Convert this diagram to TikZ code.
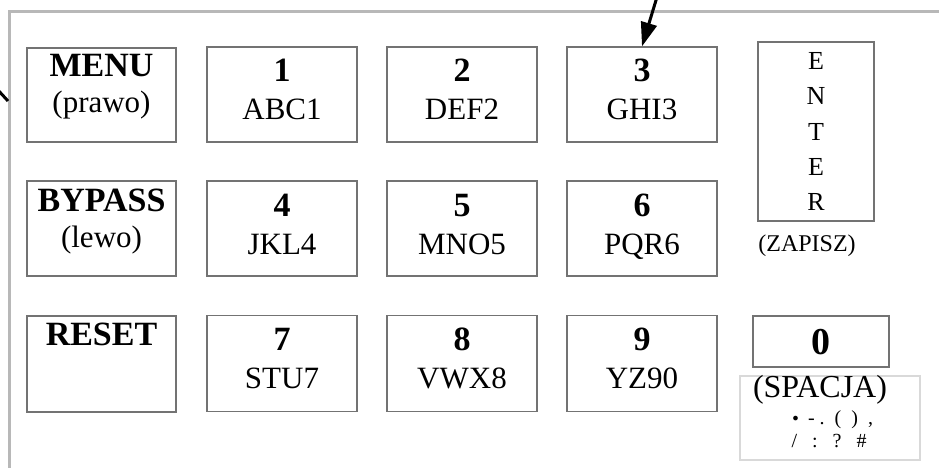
\documentclass[tikz,border=0pt]{standalone}
\usepackage{fontspec}
\setmainfont{Liberation Serif}
\usetikzlibrary{arrows.meta}
\definecolor{framegray}{gray}{0.72}
\definecolor{boxgray}{gray}{0.45}
\definecolor{lightbox}{gray}{0.85}
\tikzset{
  key/.style={draw=boxgray, line width=1.2pt, inner sep=0pt},
  big/.style={font=\fontsize{34}{34}\selectfont\bfseries, anchor=base, inner sep=0pt},
  sub/.style={font=\fontsize{31}{31}\selectfont, anchor=base, inner sep=0pt},
  ent/.style={font=\fontsize{26}{26}\selectfont, anchor=base, inner sep=0pt},
  sym/.style={font=\fontsize{20}{20}\selectfont, anchor=base, inner sep=0pt},
  pointer/.style={line width=3pt, -{Triangle[length=24pt,width=16pt]}}
}
\begin{document}
\begin{tikzpicture}[x=1pt,y=-1pt]
\useasboundingbox (0,0) rectangle (939,468);
% frame
\draw[framegray, line width=3pt] (9,470) -- (9,12) -- (941,12);
% left column
\node[key, minimum width=149pt, minimum height=94pt] (menu) at (101.5,95) {};
\node[key, minimum width=149pt, minimum height=95pt] (bypass) at (101.5,228.5) {};
\node[key, minimum width=149pt, minimum height=96pt] (reset) at (101.5,364) {};
\node[big] (menut) at (101.5,77) {MENU};
\node[sub] (menus) at (101.5,113) {(prawo)};
\node[big] (bypasst) at (101.5,211) {BYPASS};
\node[sub] (bypasss) at (101.5,247) {(lewo)};
\node[big] (resett) at (101.5,345) {RESET};
% number keys
\foreach \c/\x in {1/282,2/462,3/642}{
  \node[key, minimum width=150pt, minimum height=95pt] (k\c) at (\x,94.5) {};}
\foreach \c/\x in {4/282,5/462,6/642}{
  \node[key, minimum width=150pt, minimum height=95pt] (k\c) at (\x,228.5) {};}
\foreach \c/\x in {7/282,8/462,9/642}{
  \node[key, minimum width=150pt, minimum height=96pt] (k\c) at (\x,363.5) {};}
\node[big] (n1) at (282,82) {1};   \node[sub] (t1) at (282,120) {ABC1};
\node[big] (n2) at (462,82) {2};   \node[sub] (t2) at (462,120) {DEF2};
\node[big] (n3) at (642,82) {3};   \node[sub] (t3) at (642,120) {GHI3};
\node[big] (n4) at (282,216) {4};  \node[sub] (t4) at (282,254) {JKL4};
\node[big] (n5) at (462,216) {5};  \node[sub] (t5) at (462,254) {MNO5};
\node[big] (n6) at (642,216) {6};  \node[sub] (t6) at (642,254) {PQR6};
\node[big] (n7) at (282,350) {7};  \node[sub] (t7) at (282,388) {STU7};
\node[big] (n8) at (462,350) {8};  \node[sub] (t8) at (462,388) {VWX8};
\node[big] (n9) at (642,350) {9};  \node[sub] (t9) at (642,388) {YZ90};
% enter
\node[key, minimum width=116pt, minimum height=179pt] (enter) at (816,131.5) {};
\node[ent] (e1) at (816,70) {E};
\node[ent] (e2) at (816,105) {N};
\node[ent] (e3) at (816,140) {T};
\node[ent] (e4) at (816,175) {E};
\node[ent] (e5) at (816,210) {R};
\node[font=\fontsize{24}{24}\selectfont, anchor=base, inner sep=0pt] (zapisz) at (807,251) {(ZAPISZ)};
% zero
\node[key, minimum width=136pt, minimum height=51pt] (k0) at (821,341.5) {};
\node[font=\fontsize{38}{38}\selectfont\bfseries, anchor=base, inner sep=0pt] (n0) at (821,354) {0};
\node[draw=lightbox, line width=1.2pt, minimum width=180pt, minimum height=84pt, inner sep=0pt] (spac) at (830,418) {};
\node[font=\fontsize{32}{32}\selectfont, anchor=base, inner sep=0pt] (spact) at (820,397) {(SPACJA)};
\node[sym] (sym1) at (832,424) {\fontspec{DejaVu Sans}\fontsize{16}{16}\selectfont •\,\rmfamily\fontsize{20}{20}\selectfont\ -\ .\ \ (\ \ )\ \ ,};
\node[sym] (sym2) at (829,447) {/\ \ \ :\ \ \ ?\ \ \ \#};
% pointers
\coordinate (ptop) at (657,-3);
\draw[pointer] (ptop) -- (k3.north);
\coordinate (pl1) at (-3,89);
\coordinate (pl2) at (8,101);
\draw[line width=3pt] (pl1) -- (pl2);
\end{tikzpicture}
\end{document}
